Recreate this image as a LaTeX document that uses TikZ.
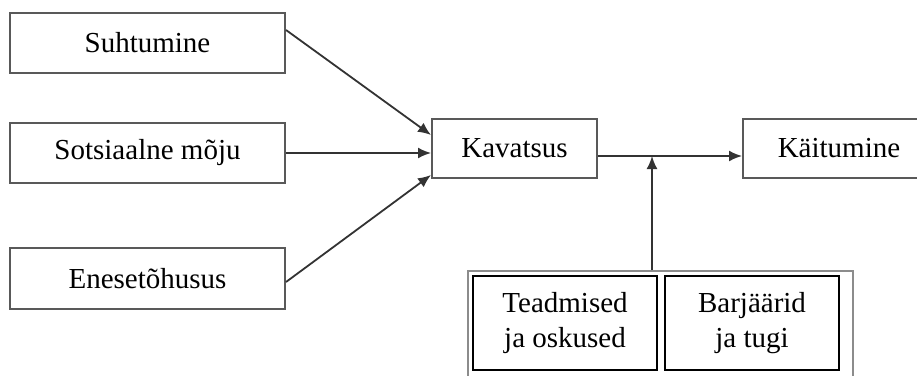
\documentclass[tikz,border=0pt]{standalone}
\usepackage{fontspec}
\setmainfont{Liberation Serif}
\usetikzlibrary{arrows.meta,calc}

\tikzset{
  box/.style={draw=black!65,line width=2pt,fill=white,inner sep=0pt},
  innerbox/.style={draw=black,line width=2pt,inner sep=0pt,align=center},
  arr/.style={draw=black!80,line width=1.8pt,-{Latex[length=13pt,width=11pt]}}
}

\begin{document}
\begin{tikzpicture}[x=1pt,y=-1pt,font=\fontsize{29}{35}\selectfont]
\useasboundingbox (0,0) rectangle (917,375);

%%%%%%%%%%%%%%%%%%%%%% FACTORS

\node[box,minimum width=275pt,minimum height=60pt] (suht) at (147.5,43) {Suhtumine};
\node[box,minimum width=275pt,minimum height=60pt] (sots) at (147.5,153) {Sotsiaalne mõju};
\node[box,minimum width=275pt,minimum height=61pt] (enes) at (147.5,278.5) {Enesetõhusus};

\node[box,minimum width=165pt,minimum height=59pt] (kav) at (514.5,148.5) {Kavatsus};
\node[box,minimum width=192pt,minimum height=59pt] (kait) at (839,148.5) {Käitumine};

\draw[arr] ([yshift=13pt]suht.east) -- ([yshift=13.5pt]kav.west);
\draw[arr] (sots.east) -- (kav.west |- sots.east);
\draw[arr] ([yshift=-3.5pt]enes.east) -- ([yshift=-26.5pt]kav.west);

%%%%%%%%%%%%%%%%%%%%%% CONDITIONS

\node[draw=black!45,line width=2pt,minimum width=385pt,minimum height=106pt] (res) at (660.5,324) {};
\node[innerbox,minimum width=184pt,minimum height=94pt] (tead) at (565,323) {Teadmised\\ja oskused};
\node[innerbox,minimum width=174pt,minimum height=94pt] (barj) at (752,323) {Barjäärid\\ja tugi};

\coordinate (junc) at (652,156);
\draw[arr] (kav.east |- junc) -- (kait.west |- junc);
\draw[arr] (res.north -| junc) -- (junc);

\end{tikzpicture}
\end{document}
